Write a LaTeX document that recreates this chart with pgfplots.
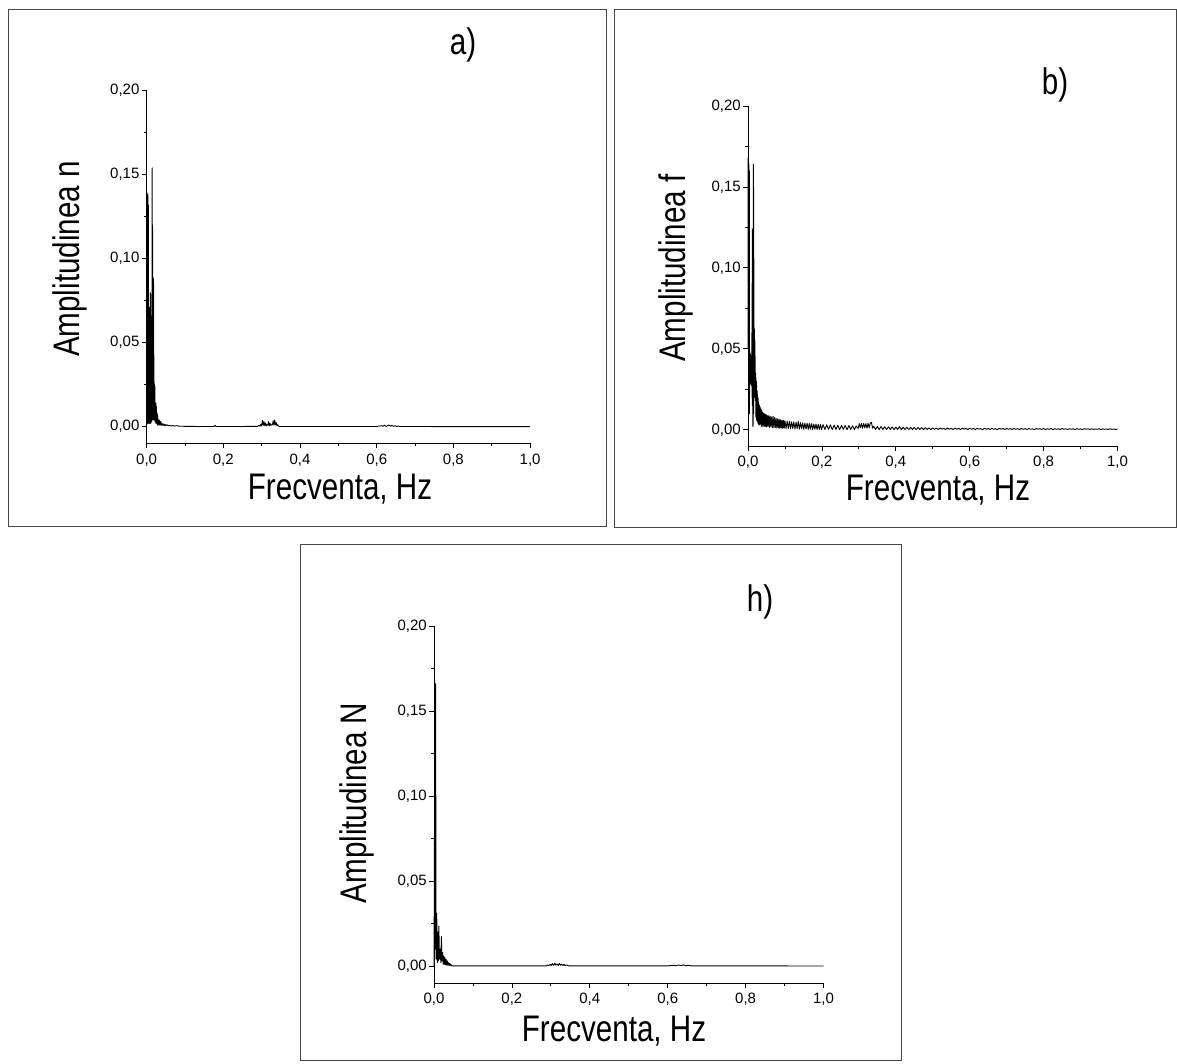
\documentclass[border=0pt]{standalone}
\usepackage{fontspec}
\setmainfont{Liberation Sans}
\usepackage{pgfplots}
\pgfplotsset{compat=1.18}
\pgfplotsset{
  spec/.style={
    scale only axis,
    anchor=south west,
    axis lines*=left,
    xmin=0, xmax=1, ymin=-0.01, ymax=0.2,
    xtick={0,0.2,0.4,0.6,0.8,1},
    xticklabels={{0,0},{0,2},{0,4},{0,6},{0,8},{1,0}},
    ytick={0,0.05,0.1,0.15,0.2},
    yticklabels={{0,00},{0,05},{0,10},{0,15},{0,20}},
    minor x tick num=1,
    minor y tick num=1,
    tick align=outside,
    major tick length=5pt,
    minor tick length=3pt,
    every tick/.style={black, line width=0.8pt},
    axis line style={black, line width=0.9pt},
    tick label style={font=\fontsize{15}{18}\selectfont, inner sep=2pt},
    xticklabel style={yshift=-3pt},
    clip=false,
  },
  specline/.style={black, line width=0.9pt, mark=none, line join=round},
}
\newcommand{\bigtxt}[1]{\scalebox{0.8}[1]{\fontsize{37}{44}\selectfont #1}}
\begin{document}
\begin{tikzpicture}[x=1pt,y=1pt]
\useasboundingbox (0,0) rectangle (1177,1064);
\draw[gray!55!black, line width=1pt] (8,537) rectangle (606,1054);
\draw[gray!55!black, line width=1pt] (614,536) rectangle (1176,1054);
\draw[gray!55!black, line width=1pt] (300,3) rectangle (901,519);

% ---------- panel a ----------
\begin{axis}[spec, at={(146.6pt,620.5pt)}, width=383.5pt, height=353pt]
\addplot[specline] coordinates {
(0.0000,0.001) (0.0005,0.138) (0.0010,0.002) (0.0015,0.139) (0.0020,0.003) (0.0025,0.137)
(0.0030,0.002) (0.0035,0.138) (0.0040,0.004) (0.0045,0.132) (0.0050,0.002) (0.0055,0.071)
(0.0060,0.003) (0.0065,0.070) (0.0070,0.002) (0.0075,0.071) (0.0080,0.004) (0.0085,0.068)
(0.0090,0.002) (0.0095,0.080) (0.0100,0.003) (0.0105,0.079) (0.0110,0.002) (0.0115,0.066)
(0.0120,0.004) (0.0125,0.062) (0.0130,0.003) (0.0135,0.058) (0.0140,0.005) (0.0145,0.154)
(0.0150,0.004) (0.0155,0.120) (0.0160,0.006) (0.0165,0.089) (0.0170,0.005) (0.0175,0.088)
(0.0180,0.004) (0.0185,0.085) (0.0190,0.006) (0.0195,0.026) (0.0200,0.004) (0.0205,0.025)
(0.0210,0.005) (0.0215,0.024) (0.0220,0.003) (0.0225,0.014) (0.0230,0.004) (0.0235,0.013)
(0.0240,0.002) (0.0245,0.014) (0.0250,0.003) (0.0255,0.012) (0.0260,0.002) (0.0265,0.008)
(0.0270,0.002) (0.0275,0.008) (0.0280,0.001) (0.0285,0.007) (0.0290,0.002) (0.0295,0.005)
(0.0300,0.001) (0.031,0.004) (0.032,0.001) (0.033,0.004) (0.034,0.001) (0.035,0.003)
(0.036,0.001) (0.037,0.003) (0.038,0.0008) (0.040,0.002) (0.042,0.0008) (0.044,0.0016)
(0.046,0.0006) (0.048,0.0014) (0.050,0.0006) (0.053,0.0012) (0.056,0.0005) (0.060,0.0009)
(0.064,0.0004) (0.068,0.0007) (0.072,0.0004) (0.078,0.0006) (0.085,0.0003) (0.10,0.0002)
(0.14,0.0001) (0.175,0.0001) (0.179,0.0008) (0.181,0.0001) (0.24,0.0001) (0.29,0.0002)
(0.293,0.0008) (0.296,0.0003) (0.298,0.0015) (0.300,0.0005) (0.302,0.0038) (0.304,0.0008)
(0.306,0.0030) (0.308,0.0006) (0.310,0.0022) (0.312,0.0004) (0.314,0.0012) (0.316,0.0008)
(0.318,0.0030) (0.320,0.0006) (0.322,0.0020) (0.324,0.0008) (0.326,0.0012) (0.328,0.0010)
(0.330,0.0035) (0.332,0.0009) (0.334,0.0040) (0.336,0.0010) (0.338,0.0024) (0.340,0.0006)
(0.342,0.0012) (0.344,0.0003) (0.348,0.0001) (0.60,0.0001) (0.612,0.0006) (0.616,0.0002)
(0.620,0.0009) (0.624,0.0002) (0.628,0.0005) (0.632,0.0010) (0.636,0.0003) (0.640,0.0008)
(0.644,0.0002) (0.648,0.0006) (0.652,0.0001) (0.656,0.0004) (0.660,0.0001) (1.0,0.0000)
};
\end{axis}

% ---------- panel b ----------
\begin{axis}[spec, at={(748pt,618pt)}, width=369.5pt, height=340pt]
\addplot[specline] coordinates {
(0.0000,0.050) (0.0005,0.168) (0.0010,0.060) (0.0015,0.165) (0.0020,0.040) (0.0025,0.164)
(0.0030,0.011) (0.0035,0.160) (0.0040,0.010) (0.0045,0.049) (0.0050,0.028) (0.0055,0.048)
(0.0060,0.030) (0.0065,0.047) (0.0070,0.029) (0.0075,0.046) (0.0080,0.031) (0.0085,0.045)
(0.0090,0.028) (0.0095,0.044) (0.0100,0.027) (0.0105,0.060) (0.0110,0.020) (0.0115,0.124)
(0.0120,0.015) (0.0125,0.118) (0.0130,0.002) (0.0135,0.050) (0.0140,0.003) (0.0145,0.164)
(0.0150,0.010) (0.0155,0.150) (0.0160,0.020) (0.0165,0.063) (0.0170,0.022) (0.0175,0.062)
(0.0180,0.024) (0.0185,0.055) (0.0190,0.020) (0.0195,0.045) (0.0200,0.018) (0.0205,0.035)
(0.0210,0.008) (0.0215,0.032) (0.0220,0.010) (0.0225,0.030) (0.0230,0.006) (0.0235,0.027)
(0.0240,0.007) (0.0245,0.024) (0.0250,0.005) (0.0255,0.022) (0.0260,0.006) (0.0265,0.020)
(0.0270,0.004) (0.0275,0.019) (0.0280,0.005) (0.0285,0.017) (0.0290,0.003) (0.0295,0.016)
(0.0300,0.004) (0.031,0.015) (0.032,0.003) (0.033,0.014) (0.034,0.004) (0.035,0.013)
(0.036,0.002) (0.037,0.012) (0.038,0.003) (0.039,0.011) (0.040,0.002) (0.041,0.0105)
(0.042,0.003) (0.043,0.010) (0.044,0.002) (0.045,0.0098) (0.046,0.0025) (0.047,0.0095)
(0.048,0.002) (0.049,0.0093) (0.050,0.0018) (0.052,0.0090) (0.054,0.0020) (0.056,0.0087)
(0.058,0.0015) (0.060,0.0085) (0.062,0.0018) (0.064,0.0080) (0.066,0.0014) (0.068,0.0082)
(0.070,0.0012) (0.072,0.0076) (0.074,0.0015) (0.076,0.0070) (0.078,0.0010) (0.080,0.0068)
(0.082,0.0012) (0.084,0.0066) (0.086,0.0009) (0.088,0.0062) (0.090,0.0011) (0.092,0.0060)
(0.094,0.0008) (0.096,0.0059) (0.098,0.0010) (0.100,0.0056) (0.103,0.0007) (0.106,0.0054)
(0.109,0.0009) (0.112,0.0052) (0.115,0.0006) (0.118,0.0050) (0.121,0.0008) (0.124,0.0049)
(0.127,0.0005) (0.130,0.0047) (0.133,0.0007) (0.136,0.0052) (0.139,0.0004) (0.142,0.0045)
(0.145,0.0006) (0.148,0.0043) (0.151,0.0003) (0.154,0.0042) (0.157,0.0005) (0.160,0.0041)
(0.163,0.0003) (0.166,0.0039) (0.169,0.0004) (0.172,0.0038) (0.175,0.0002) (0.178,0.0036)
(0.181,0.0004) (0.184,0.0035) (0.187,0.0002) (0.190,0.0034) (0.193,0.0003) (0.196,0.0033)
(0.199,0.0001) (0.203,0.0032) (0.208,0.0002) (0.213,0.0031) (0.218,0.0003) (0.223,0.0030)
(0.228,0.0001) (0.233,0.0029) (0.238,0.0002) (0.243,0.0028) (0.248,0.0001) (0.253,0.0027)
(0.258,0.0003) (0.263,0.0026) (0.268,0.0001) (0.273,0.0026) (0.278,0.0002) (0.283,0.0025)
(0.288,0.0001) (0.293,0.0024) (0.298,0.0008) (0.301,0.0038) (0.304,0.0012) (0.307,0.0040)
(0.310,0.0010) (0.313,0.0039) (0.316,0.0012) (0.319,0.0038) (0.322,0.0010) (0.325,0.0040)
(0.328,0.0012) (0.331,0.0043) (0.334,0.0046) (0.337,0.0010) (0.340,0.0022) (0.345,0.0002)
(0.350,0.0021) (0.355,0.0001) (0.360,0.0020) (0.365,0.0002) (0.370,0.0019) (0.375,0.0001)
(0.380,0.0018) (0.385,0.0002) (0.390,0.0018) (0.395,0.0001) (0.400,0.0017) (0.405,0.0002)
(0.410,0.0020) (0.415,0.0001) (0.420,0.0016) (0.425,0.0002) (0.430,0.0015) (0.435,0.0001)
(0.440,0.0015) (0.445,0.0002) (0.450,0.0014) (0.455,0.0001) (0.460,0.0014) (0.465,0.0002)
(0.470,0.0013) (0.475,0.0001) (0.480,0.0013) (0.485,0.0002) (0.490,0.0012) (0.495,0.0001)
(0.500,0.0012) (0.505,0.0003) (0.510,0.0010) (0.515,0.0002) (0.520,0.0011) (0.525,0.0004)
(0.530,0.0009) (0.535,0.0001) (0.540,0.0012) (0.545,0.0003) (0.550,0.0009) (0.555,0.0002)
(0.560,0.0010) (0.565,0.0004) (0.570,0.0008) (0.575,0.0001) (0.580,0.0011) (0.585,0.0003)
(0.590,0.0009) (0.595,0.0002) (0.600,0.0010) (0.605,0.0003) (0.610,0.0008) (0.615,0.0002)
(0.620,0.0009) (0.625,0.0004) (0.630,0.0007) (0.635,0.0001) (0.640,0.0010) (0.645,0.0003)
(0.650,0.0008) (0.655,0.0002) (0.660,0.0009) (0.665,0.0003) (0.670,0.0007) (0.675,0.0001)
(0.680,0.0009) (0.685,0.0004) (0.690,0.0008) (0.695,0.0002) (0.700,0.0009) (0.705,0.0003)
(0.710,0.0007) (0.715,0.0002) (0.720,0.0008) (0.725,0.0003) (0.730,0.0007) (0.735,0.0001)
(0.740,0.0009) (0.745,0.0003) (0.750,0.0007) (0.755,0.0002) (0.760,0.0008) (0.765,0.0003)
(0.770,0.0006) (0.775,0.0001) (0.780,0.0008) (0.785,0.0003) (0.790,0.0007) (0.795,0.0002)
(0.800,0.0008) (0.805,0.0002) (0.810,0.0006) (0.815,0.0003) (0.820,0.0008) (0.825,0.0001)
(0.830,0.0007) (0.835,0.0003) (0.840,0.0006) (0.845,0.0002) (0.850,0.0008) (0.855,0.0003)
(0.860,0.0006) (0.865,0.0001) (0.870,0.0007) (0.875,0.0003) (0.880,0.0006) (0.885,0.0002)
(0.890,0.0007) (0.895,0.0003) (0.900,0.0006) (0.905,0.0001) (0.910,0.0007) (0.915,0.0003)
(0.920,0.0006) (0.925,0.0002) (0.930,0.0007) (0.935,0.0002) (0.940,0.0005) (0.945,0.0003)
(0.950,0.0007) (0.955,0.0001) (0.960,0.0006) (0.965,0.0003) (0.970,0.0005) (0.975,0.0002)
(0.980,0.0006) (0.985,0.0003) (0.990,0.0005) (0.995,0.0002) (1.000,0.0005)
};
\end{axis}

% ---------- panel h ----------
\begin{axis}[spec, at={(434pt,81pt)}, width=389.5pt, height=357pt]
\addplot[specline] coordinates {
(0.0000,0.000) (0.0010,0.058) (0.0020,0.168) (0.0030,0.010) (0.0040,0.166) (0.0055,0.004)
(0.0070,0.031) (0.0085,0.002) (0.0100,0.020) (0.0110,0.003) (0.0125,0.0235) (0.0140,0.004)
(0.0160,0.010) (0.0175,0.002) (0.0190,0.0173) (0.0205,0.003) (0.0220,0.008) (0.0235,0.001)
(0.0250,0.006) (0.0265,0.001) (0.0280,0.005) (0.0295,0.0008) (0.0310,0.004) (0.0325,0.0005)
(0.0340,0.003) (0.0355,0.0005) (0.0370,0.002) (0.0385,0.0004) (0.0400,0.0015) (0.0415,0.0003)
(0.0430,0.0012) (0.0450,0.0001) (0.10,0.0001) (0.288,0.0001) (0.292,0.0006) (0.295,0.0002)
(0.298,0.0010) (0.301,0.0003) (0.304,0.0014) (0.307,0.0004) (0.310,0.0016) (0.313,0.0005)
(0.316,0.0012) (0.319,0.0003) (0.322,0.0015) (0.325,0.0004) (0.328,0.0011) (0.331,0.0003)
(0.334,0.0009) (0.337,0.0002) (0.341,0.0006) (0.345,0.0001) (0.60,0.0001) (0.615,0.0004)
(0.620,0.0001) (0.628,0.0006) (0.634,0.0002) (0.640,0.0007) (0.646,0.0001) (0.652,0.0004)
(0.660,0.0001) (1.0,0.0000)
};
\end{axis}

% ---------- texts ----------
\begin{scope}[every node/.style={inner sep=0pt}]
\node at (463,1019) {\bigtxt{a)}};
\node[rotate=90] at (70,805) {\bigtxt{Amplitudinea n}};
\node at (340,575) {\bigtxt{Frecventa, Hz}};
\node at (1055,979) {\bigtxt{b)}};
\node[rotate=90] at (676,796) {\bigtxt{Amplitudinea f}};
\node at (938,574) {\bigtxt{Frecventa, Hz}};
\node at (760,462) {\bigtxt{h)}};
\node[rotate=90] at (357,261) {\bigtxt{Amplitudinea N}};
\node at (614,33) {\bigtxt{Frecventa, Hz}};
\end{scope}
\end{tikzpicture}
\end{document}
